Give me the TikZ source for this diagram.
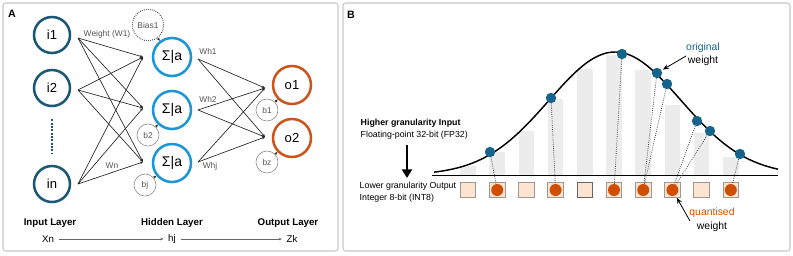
\documentclass[tikz,border=0pt]{standalone}
\usepackage{fontspec}
\setmainfont{Liberation Sans}
\usetikzlibrary{arrows.meta}

\definecolor{inpcol}{RGB}{28,88,118}
\definecolor{hidcol}{RGB}{27,150,215}
\definecolor{outcol}{RGB}{204,85,30}
\definecolor{dotblue}{RGB}{22,100,140}
\definecolor{dotorange}{RGB}{208,78,0}
\definecolor{sqfill}{RGB}{253,228,208}
\definecolor{sqdraw}{RGB}{160,150,145}
\definecolor{barfill}{RGB}{236,236,236}
\definecolor{framecol}{RGB}{200,200,200}
\definecolor{textgray}{RGB}{85,85,85}

\tikzset{
  inp/.style={circle,draw=inpcol,line width=1.9pt,minimum size=27pt,inner sep=0pt,
    font=\fontsize{9.8}{11}\selectfont},
  hid/.style={inp,draw=hidcol,minimum size=28.5pt,font=\fontsize{10.5}{12}\selectfont},
  outp/.style={inp,draw=outcol,minimum size=28.5pt},
  bias/.style={circle,draw=gray!85,line width=0.5pt,minimum size=16.5pt,inner sep=0pt,
    text=textgray,font=\fontsize{6.3}{7}\selectfont},
  wlabel/.style={text=textgray,font=\fontsize{6.3}{7}\selectfont},
  layer/.style={font=\bfseries\fontsize{7.3}{9}\selectfont},
  small/.style={font=\fontsize{7.3}{9}\selectfont},
  wire/.style={-{Stealth[length=2.4pt,width=2pt]},line width=0.5pt,black!85},
  qbox/.style={draw=sqdraw,fill=sqfill,line width=0.6pt,minimum size=11.6pt,inner sep=0pt},
  odot/.style={circle,fill=dotblue,minimum size=7.8pt,inner sep=0pt},
  qdot/.style={circle,fill=dotorange,minimum size=9pt,inner sep=0pt},
  link/.style={densely dotted,line width=0.6pt,black!75},
  note/.style={font=\fontsize{7.8}{9}\selectfont,inner sep=0pt},
}

\begin{document}
\begin{tikzpicture}[x=0.75pt,y=-0.75pt,>=stealth]
  \useasboundingbox (0,0) rectangle (793,255);

  % panel frames
  \draw[framecol,line width=0.8pt,rounded corners=2pt] (3,3) rectangle (338,251);
  \draw[framecol,line width=0.8pt,rounded corners=2pt] (343,3) rectangle (790,251);
  \node[font=\bfseries\fontsize{8}{9}\selectfont] (pa) at (12,14) {A};
  \node[font=\bfseries\fontsize{8}{9}\selectfont] (pb) at (351,15) {B};

  % ---------- panel A ----------
  \node[inp] (i1) at (52,35) {i1};
  \node[inp] (i2) at (52,88) {i2};
  \node[inp] (in) at (52,184) {in};
  \draw[inpcol,line width=1.5pt,densely dotted,shorten <=9pt,shorten >=8pt] (i2) -- (in);

  \node[hid] (h1) at (172,57) {Σ|a};
  \node[hid] (h2) at (172,110) {Σ|a};
  \node[hid] (h3) at (172,163) {Σ|a};

  \node[outp] (o1) at (292,85) {o1};
  \node[outp] (o2) at (292,138) {o2};

  \node[bias,densely dotted,draw=black!80,line width=0.8pt,minimum size=23.5pt] (bias1) at (148,25) {Bias1};
  \node[bias] (b2) at (148,135) {b2};
  \node[bias] (bj) at (145,185) {bj};
  \node[bias] (b1) at (267,110) {b1};
  \node[bias] (bz) at (267,162) {bz};

  \coordinate (i1o) at (78,38);
  \coordinate (i2o) at (78,90);
  \coordinate (ino) at (78,184);
  \coordinate (h1i) at (143,57);
  \coordinate (h2i) at (143,108);
  \coordinate (h3i) at (143,162);
  \coordinate (h1o) at (198,59);
  \coordinate (h2o) at (198,110);
  \coordinate (h3o) at (198,162);
  \coordinate (o1i) at (265,88);
  \coordinate (o2i) at (265,137);

  % input to hidden
  \draw[wire] (i1o) -- (h1i);
  \draw[wire] (i1o) -- (h2i);
  \draw[wire] (i1o) -- (h3i);
  \draw[wire] (i2o) -- (h1i);
  \draw[wire] (i2o) -- (h2i);
  \draw[wire] (i2o) -- (h3i);
  \draw[wire] (ino) -- (h1i);
  \draw[wire] (ino) -- (h2i);
  \draw[wire] (ino) -- (h3i);

  % hidden to output
  \draw[wire] (h1o) -- (o1i);
  \draw[wire] (h1o) -- (o2i);
  \draw[wire] (h2o) -- (o1i);
  \draw[wire] (h2o) -- (o2i);
  \draw[wire] (h3o) -- (o1i);
  \draw[wire] (h3o) -- (o2i);

  % bias links
  \draw[wire] (bias1) -- (h1);
  \draw[wire] (b2) -- (h2);
  \draw[wire] (bj) -- (h3);
  \draw[wire] (b1) -- (o1);
  \draw[wire] (bz) -- (o2);

  % weight labels
  \node[wlabel] (w1) at (107,34) {Weight (W1)};
  \node[wlabel] (wn) at (112,166) {Wn};
  \node[wlabel] (wh1) at (208,51) {Wh1};
  \node[wlabel] (wh2) at (208,99) {Wh2};
  \node[wlabel] (whj) at (210,166) {Whj};

  % layer names
  \node[layer] (linp) at (50,223) {Input Layer};
  \node[layer] (lhid) at (172,223) {Hidden Layer};
  \node[layer] (lout) at (288,223) {Output Layer};
  \node[small] (xn) at (48,239) {Xn};
  \node[small] (hj) at (172,239) {hj};
  \node[small] (zk) at (292,239) {Zk};
  \draw[wire,black!60] (xn) -- (hj);
  \draw[wire,black!60] (hj) -- (zk);

  % ---------- panel B ----------
  % histogram bars
  \fill[barfill] (460.25,175) rectangle (475.75,166);
  \fill[barfill] (489.45,175) rectangle (504.95,152);
  \fill[barfill] (518.65,175) rectangle (534.15,131);
  \fill[barfill] (547.85,175) rectangle (563.35,99);
  \fill[barfill] (577.05,175) rectangle (592.55,69);
  \fill[barfill] (606.25,175) rectangle (621.75,55);
  \fill[barfill] (635.45,175) rectangle (650.95,70);
  \fill[barfill] (664.65,175) rectangle (680.15,105);
  \fill[barfill] (693.85,175) rectangle (709.35,133);
  \fill[barfill] (723.05,175) rectangle (738.55,157);

  % axis and distribution
  \coordinate (basel) at (432,175.5);
  \coordinate (baser) at (778,175.5);
  \draw[line width=1.1pt] (basel) -- (baser);
  \draw[line width=1.1pt] plot[domain=434:778,samples=90,smooth]
    (\x,{175-123*exp(-((\x-615)/93.34)^2)});

  % INT8 bins
  \node[qbox] (q1) at (468,190) {};
  \node[qbox] (q2) at (497.2,190) {};
  \node[qbox] (q3) at (526.4,190) {};
  \node[qbox] (q4) at (555.6,190) {};
  \node[qbox,draw=black!60] (q5) at (584.8,190) {};
  \node[qbox] (q6) at (614,190) {};
  \node[qbox] (q7) at (643.2,190) {};
  \node[qbox] (q8) at (672.4,190) {};
  \node[qbox] (q9) at (701.6,190) {};
  \node[qbox] (q10) at (730.8,190) {};

  % quantised values
  \node[qdot] (r2) at (q2) {};
  \node[qdot] (r4) at (q4) {};
  \node[qdot] (r6) at (q6) {};
  \node[qdot] (r7) at (q7) {};
  \node[qdot] (r8) at (q8) {};
  \node[qdot] (r10) at (q10) {};

  % original values
  \node[odot] (d1) at (490,152) {};
  \node[odot] (d2) at (551,98) {};
  \node[odot] (d3) at (622,54) {};
  \node[odot] (d4) at (657,73) {};
  \node[odot] (d5) at (667,84) {};
  \node[odot] (d6) at (697,121) {};
  \node[odot] (d7) at (710,131) {};
  \node[odot] (d8) at (740,154) {};

  \draw[link] (d1) -- (r2);
  \draw[link] (d2) -- (r4);
  \draw[link] (d3) -- (r6);
  \draw[link] (d4) -- (r7);
  \draw[link] (d5) -- (r7);
  \draw[link] (d6) -- (r8);
  \draw[link] (d7) -- (r8);
  \draw[link] (d8) -- (r10);

  % notes
  \node[note,text=dotblue] (orig) at (703,48) {original};
  \node[note] (origw) at (703,61) {weight};
  \coordinate (oa) at (686,56);
  \draw[-{Stealth[length=4.5pt,width=3.6pt]},line width=0.6pt,shorten >=1pt] (oa) -- (d4);
  \node[note,text=dotorange] (quant) at (712,213) {quantised};
  \node[note] (quantw) at (712,227) {weight};
  \coordinate (qa) at (690,221);
  \draw[-{Stealth[length=4.5pt,width=3.6pt]},line width=0.6pt,shorten >=2pt] (qa) -- (r8);

  % precision labels
  \node[anchor=west,font=\bfseries\fontsize{6.6}{8}\selectfont] (hi) at (356,123) {Higher granularity Input};
  \node[anchor=west,font=\fontsize{6.6}{8}\selectfont] (fp32) at (356,135) {Floating-point 32-bit (FP32)};
  \coordinate (ga) at (407,145);
  \coordinate (gb) at (407,178);
  \draw[line width=1.6pt,-{Triangle[length=6.5pt,width=7.5pt]}] (ga) -- (gb);
  \node[anchor=west,font=\fontsize{6.6}{8}\selectfont] (lo) at (355,186) {Lower granularity Output};
  \node[anchor=west,font=\fontsize{6.6}{8}\selectfont] (int8) at (355,198) {Integer 8-bit (INT8)};
\end{tikzpicture}
\end{document}
